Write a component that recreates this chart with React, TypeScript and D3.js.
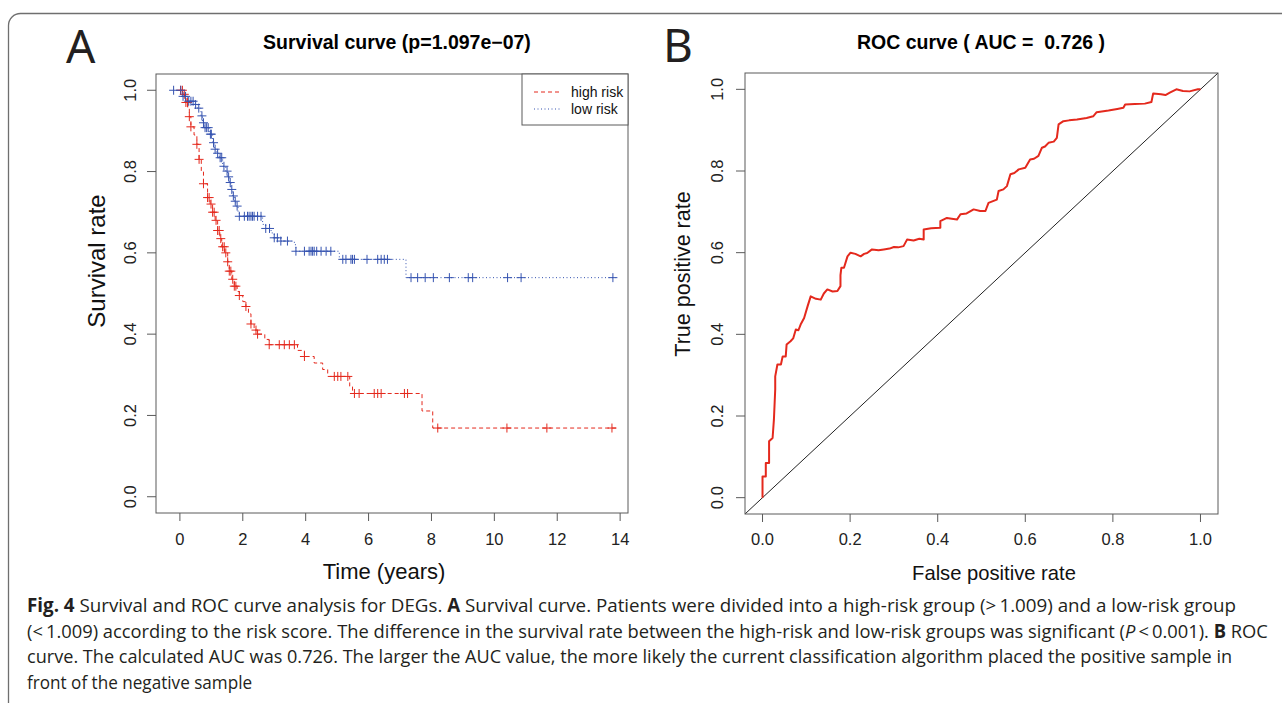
import React, { useLayoutEffect, useRef } from 'react';
import * as d3 from 'd3';

// Kaplan-Meier, high-risk group: event times (years) and survival after each event
const highRiskTime = [0.10, 0.15, 0.19, 0.25, 0.30, 0.35, 0.45, 0.54, 0.61, 0.68, 0.75, 0.88, 0.96, 1.04, 1.12, 1.20, 1.27, 1.33, 1.42, 1.52, 1.57, 1.65, 1.73, 1.82, 1.89, 2.00, 2.10, 2.18, 2.26, 2.36, 2.47, 2.70, 2.84, 3.74, 3.96, 4.27, 4.54, 4.70, 5.40, 5.49, 7.70, 8.04];
const highRiskSurv = [0.99, 0.98, 0.97, 0.955, 0.935, 0.91, 0.89, 0.867, 0.83, 0.80, 0.77, 0.736, 0.72, 0.70, 0.68, 0.655, 0.635, 0.615, 0.60, 0.578, 0.555, 0.535, 0.518, 0.505, 0.495, 0.48, 0.468, 0.45, 0.425, 0.41, 0.40, 0.387, 0.374, 0.36, 0.345, 0.329, 0.313, 0.296, 0.272, 0.254, 0.211, 0.169];
const highRiskCensor = [0.02, 0.08, 0.14, 0.19, 0.24, 0.30, 0.35, 0.54, 0.61, 0.75, 0.88, 0.93, 0.99, 1.04, 1.09, 1.15, 1.20, 1.25, 1.30, 1.36, 1.41, 1.46, 1.52, 1.57, 1.62, 1.68, 1.73, 1.78, 1.89, 2.10, 2.26, 2.42, 2.47, 2.84, 3.16, 3.32, 3.48, 3.64, 3.96, 4.91, 5.02, 5.12, 5.34, 5.55, 5.70, 6.18, 6.29, 6.40, 7.14, 7.24, 8.20, 10.40, 11.67, 13.74];
const highRiskEnd = 13.87;

// low-risk group
const lowRiskTime = [0.08, 0.24, 0.46, 0.56, 0.67, 0.72, 0.77, 0.93, 1.04, 1.09, 1.17, 1.25, 1.36, 1.46, 1.52, 1.57, 1.62, 1.68, 1.73, 1.78, 1.85, 1.89, 2.63, 2.73, 2.90, 3.00, 3.21, 3.64, 3.69, 5.07, 7.19];
const lowRiskSurv = [0.985, 0.973, 0.965, 0.956, 0.937, 0.92, 0.908, 0.892, 0.871, 0.855, 0.845, 0.834, 0.813, 0.801, 0.787, 0.773, 0.756, 0.74, 0.727, 0.715, 0.70, 0.69, 0.67, 0.66, 0.649, 0.637, 0.629, 0.62, 0.604, 0.584, 0.539];
const lowRiskCensor = [-0.2, 0.03, 0.10, 0.18, 0.28, 0.35, 0.42, 0.50, 0.60, 0.70, 0.75, 0.80, 0.85, 0.90, 0.97, 1.00, 1.07, 1.12, 1.20, 1.28, 1.33, 1.40, 1.50, 1.55, 1.60, 1.65, 1.70, 1.76, 1.82, 1.89, 2.05, 2.15, 2.20, 2.26, 2.31, 2.36, 2.47, 2.58, 2.73, 2.85, 3.00, 3.10, 3.21, 3.42, 3.69, 3.96, 4.11, 4.17, 4.22, 4.27, 4.35, 4.49, 4.65, 4.80, 5.18, 5.28, 5.44, 5.49, 5.55, 5.95, 6.29, 6.40, 6.50, 6.60, 7.35, 7.56, 7.80, 8.06, 8.57, 9.17, 9.31, 10.42, 10.85, 13.77];
const lowRiskEnd = 13.87;

const timeTicks = [0, 2, 4, 6, 8, 10, 12, 14];
const rateTicks = [0, 0.2, 0.4, 0.6, 0.8, 1.0];

// ROC curve points
const rocFpr = [0, 0, 0.0075, 0.0075, 0.015, 0.015, 0.023, 0.026, 0.029, 0.029, 0.034, 0.042, 0.046, 0.053, 0.055, 0.064, 0.07, 0.076, 0.082, 0.087, 0.095, 0.103, 0.11, 0.122, 0.133, 0.14, 0.148, 0.16, 0.171, 0.178, 0.178, 0.18, 0.186, 0.194, 0.201, 0.212, 0.224, 0.232, 0.239, 0.25, 0.265, 0.277, 0.29, 0.3, 0.31, 0.322, 0.33, 0.345, 0.358, 0.368, 0.368, 0.385, 0.406, 0.406, 0.421, 0.432, 0.444, 0.452, 0.466, 0.482, 0.497, 0.509, 0.516, 0.535, 0.539, 0.55, 0.558, 0.566, 0.575, 0.585, 0.6, 0.611, 0.62, 0.63, 0.638, 0.645, 0.653, 0.665, 0.672, 0.676, 0.687, 0.7, 0.718, 0.74, 0.755, 0.763, 0.79, 0.81, 0.824, 0.828, 0.85, 0.873, 0.888, 0.892, 0.91, 0.92, 0.93, 0.945, 0.96, 0.975, 0.994, 1];
const rocTpr = [0, 0.052, 0.052, 0.085, 0.085, 0.138, 0.146, 0.191, 0.265, 0.297, 0.326, 0.326, 0.346, 0.346, 0.375, 0.383, 0.39, 0.412, 0.41, 0.424, 0.44, 0.469, 0.493, 0.487, 0.485, 0.5, 0.51, 0.505, 0.506, 0.518, 0.545, 0.563, 0.563, 0.591, 0.6, 0.597, 0.591, 0.597, 0.599, 0.608, 0.606, 0.608, 0.61, 0.614, 0.613, 0.616, 0.632, 0.63, 0.634, 0.632, 0.657, 0.66, 0.661, 0.677, 0.685, 0.683, 0.681, 0.694, 0.696, 0.706, 0.702, 0.702, 0.722, 0.73, 0.751, 0.755, 0.763, 0.792, 0.795, 0.804, 0.808, 0.828, 0.83, 0.837, 0.857, 0.86, 0.869, 0.872, 0.881, 0.914, 0.922, 0.924, 0.926, 0.93, 0.934, 0.944, 0.948, 0.952, 0.955, 0.963, 0.964, 0.965, 0.969, 0.99, 0.988, 0.986, 0.992, 1.0, 0.996, 0.995, 1.0, 1];
const rocTicks = [0, 0.2, 0.4, 0.6, 0.8, 1.0];

// caption lines: baseline y and the width each line fills in the figure
const captionY = [612, 638, 663, 689];
const captionWidth = [1209, 1241, 1205, 225];

const RED = '#e4291d';
const BLUE = '#3553b0';
const AXIS = '#5a5a5a';
const FONT = "'Liberation Sans', Arial, sans-serif";

const stepPoints = (times: number[], surv: number[], end: number): [number, number][] => [
  [0, 1],
  ...times.map((t, i) => [t, surv[i]] as [number, number]),
  [end, surv[surv.length - 1]],
];

const survAt = (times: number[], surv: number[], t: number) => {
  let s = 1;
  times.forEach((tt, i) => {
    if (tt <= t) s = surv[i];
  });
  return s;
};

export default function App() {
  const captionRef = useRef<SVGGElement>(null);

  // squeeze each caption line horizontally to the condensed width of the original
  useLayoutEffect(() => {
    if (!captionRef.current) return;
    d3.select(captionRef.current)
      .selectAll<SVGTextElement, unknown>('text')
      .each(function (_, i) {
        const w = this.getComputedTextLength();
        const sx = w > 0 ? captionWidth[i] / w : 1;
        d3.select(this).attr('transform', `translate(27,${captionY[i]}) scale(${sx},1)`);
      });
  }, []);

  // panel A
  const xA = d3.scaleLinear().domain([-0.76, 14.25]).range([156, 628]);
  const yA = d3.scaleLinear().domain([-0.04, 1.04]).range([513, 74]);
  const km = d3
    .line<[number, number]>()
    .x(d => xA(d[0]))
    .y(d => yA(d[1]))
    .curve(d3.curveStepAfter);

  // panel B
  const xB = d3.scaleLinear().domain([-0.04, 1.04]).range([745, 1218]);
  const yB = d3.scaleLinear().domain([-0.04, 1.04]).range([514, 73]);
  const roc = d3
    .line<number>()
    .x(i => xB(rocFpr[i]))
    .y(i => yB(rocTpr[i]));

  const cross = (x: number, y: number, color: string, key: string) => (
    <path key={key} d={`M${x - 4.5},${y}H${x + 4.5}M${x},${y - 4.5}V${y + 4.5}`} stroke={color} strokeWidth={1} />
  );

  return (
    <svg width={1282} height={703} style={{ position: 'absolute', left: 0, top: 0, background: '#fff' }}>
      {/* figure frame */}
      <rect x={8.5} y={13.5} width={1300} height={720} rx={12} fill="none" stroke="#6f6f6f" strokeWidth={1.3} />

      {/* ---------- panel A ---------- */}
      <text x={66} y={63} fontFamily="'Noto Sans', 'Open Sans', sans-serif" fontSize={46} fill="#231f20">A</text>
      <text x={397} y={49} textAnchor="middle" fontFamily={FONT} fontWeight="bold" fontSize={19.5}>Survival curve (p=1.097e−07)</text>

      <g fontFamily={FONT} fontSize={16.5} fill="#222">
        {timeTicks.map(t => (
          <g key={'xa' + t}>
            <line x1={xA(t)} x2={xA(t)} y1={513} y2={521} stroke={AXIS} />
            <text x={xA(t)} y={545} textAnchor="middle">{t}</text>
          </g>
        ))}
        {rateTicks.map(v => (
          <g key={'ya' + v}>
            <line x1={147} x2={156} y1={yA(v)} y2={yA(v)} stroke={AXIS} />
            <text transform={`translate(136,${yA(v)}) rotate(-90)`} textAnchor="middle">{v.toFixed(1)}</text>
          </g>
        ))}
      </g>
      <text x={384} y={579} textAnchor="middle" fontFamily={FONT} fontSize={22} fill="#111">Time (years)</text>
      <text transform="translate(105,261) rotate(-90)" textAnchor="middle" fontFamily={FONT} fontSize={24} fill="#111">Survival rate</text>

      <path d={km(stepPoints(highRiskTime, highRiskSurv, highRiskEnd)) || ''} fill="none" stroke={RED} strokeWidth={1} strokeDasharray="4,3" />
      <path d={km(stepPoints(lowRiskTime, lowRiskSurv, lowRiskEnd)) || ''} fill="none" stroke={BLUE} strokeWidth={1} strokeDasharray="1,2.5" />
      {highRiskCensor.map((t, i) => cross(xA(t), yA(survAt(highRiskTime, highRiskSurv, t)), RED, 'hc' + i))}
      {lowRiskCensor.map((t, i) => cross(xA(t), yA(survAt(lowRiskTime, lowRiskSurv, t)), BLUE, 'lc' + i))}

      <rect x={156} y={74} width={472} height={439} fill="none" stroke={AXIS} strokeWidth={1} />
      {/* legend */}
      <rect x={522} y={74} width={106} height={51} fill="#fff" stroke={AXIS} strokeWidth={1} />
      <line x1={534} x2={560} y1={92} y2={92} stroke={RED} strokeDasharray="4,3" />
      <line x1={534} x2={560} y1={109} y2={109} stroke={BLUE} strokeDasharray="1,2.5" />
      <g fontFamily={FONT} fontSize={14} fill="#111">
        <text x={571} y={97}>high risk</text>
        <text x={571} y={114}>low risk</text>
      </g>

      {/* ---------- panel B ---------- */}
      <text x={663} y={62} fontFamily="'Noto Sans', 'Open Sans', sans-serif" fontSize={46} fill="#231f20">B</text>
      <text x={981} y={49} textAnchor="middle" fontFamily={FONT} fontWeight="bold" fontSize={19.5} style={{ whiteSpace: 'pre' }}>ROC curve ( AUC =  0.726 )</text>

      <g fontFamily={FONT} fontSize={16.5} fill="#222">
        {rocTicks.map(v => (
          <g key={'xb' + v}>
            <line x1={xB(v)} x2={xB(v)} y1={514} y2={522} stroke={AXIS} />
            <text x={xB(v)} y={545} textAnchor="middle">{v.toFixed(1)}</text>
          </g>
        ))}
        {rocTicks.map(v => (
          <g key={'yb' + v}>
            <line x1={736} x2={745} y1={yB(v)} y2={yB(v)} stroke={AXIS} />
            <text transform={`translate(723,${yB(v)}) rotate(-90)`} textAnchor="middle">{v.toFixed(1)}</text>
          </g>
        ))}
      </g>
      <text x={994} y={580} textAnchor="middle" fontFamily={FONT} fontSize={20.2} fill="#111">False positive rate</text>
      <text transform="translate(690,274) rotate(-90)" textAnchor="middle" fontFamily={FONT} fontSize={21.5} fill="#111">True positive rate</text>

      <line x1={xB(-0.04)} y1={yB(-0.04)} x2={xB(1.04)} y2={yB(1.04)} stroke="#222" strokeWidth={1} />
      <path d={roc(d3.range(rocFpr.length)) || ''} fill="none" stroke={RED} strokeWidth={2} strokeLinejoin="round" />
      <rect x={745} y={73} width={473} height={441} fill="none" stroke={AXIS} strokeWidth={1} />

      {/* ---------- caption ---------- */}
      <g ref={captionRef} fontFamily="'Open Sans', sans-serif" fontSize={19} fill="#231f20">
        <text transform={`translate(27,${captionY[0]}) scale(0.8,1)`}>
          <tspan fontWeight="bold">Fig. 4</tspan>
          <tspan>{'  Survival and ROC curve analysis for DEGs. '}</tspan>
          <tspan fontWeight="bold">A</tspan>
          <tspan>{' Survival curve. Patients were divided into a high-risk group (>\u20091.009) and a low-risk group'}</tspan>
        </text>
        <text transform={`translate(27,${captionY[1]}) scale(0.8,1)`}>
          <tspan>{'(<\u20091.009) according to the risk score. The difference in the survival rate between the high-risk and low-risk groups was significant ('}</tspan>
          <tspan fontStyle="italic">P</tspan>
          <tspan>{'\u2009<\u20090.001). '}</tspan>
          <tspan fontWeight="bold">B</tspan>
          <tspan> ROC</tspan>
        </text>
        <text transform={`translate(27,${captionY[2]}) scale(0.8,1)`}>
          curve. The calculated AUC was 0.726. The larger the AUC value, the more likely the current classification algorithm placed the positive sample in
        </text>
        <text transform={`translate(27,${captionY[3]}) scale(0.8,1)`}>
          front of the negative sample
        </text>
      </g>
    </svg>
  );
}
